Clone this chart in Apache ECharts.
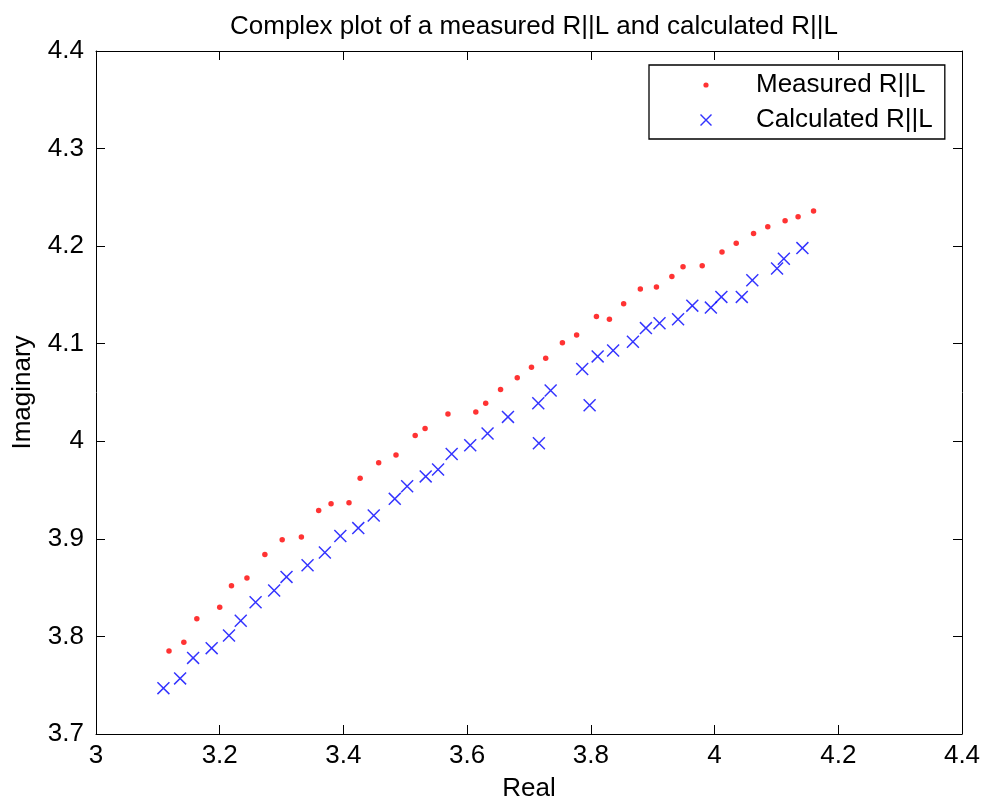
<!DOCTYPE html>
<html>
<head>
<meta charset="utf-8">
<script src="https://cdn.jsdelivr.net/npm/echarts@6/dist/echarts.min.js"></script>
<style>
  html, body { margin: 0; padding: 0; background: #fff; }
  #chart { width: 987px; height: 807px; }
</style>
</head>
<body>
<div id="chart"></div>
<script>
// measured R||L (real, imaginary)
const measuredReal = [3.118, 3.142, 3.163, 3.200, 3.219, 3.244, 3.273, 3.301, 3.332, 3.360,
  3.380, 3.409, 3.427, 3.457, 3.485, 3.516, 3.532, 3.569, 3.614, 3.630,
  3.654, 3.681, 3.704, 3.727, 3.754, 3.777, 3.809, 3.830, 3.853, 3.880,
  3.906, 3.931, 3.949, 3.980, 4.012, 4.035, 4.063, 4.086, 4.114, 4.135, 4.160];
const measuredImag = [3.785, 3.794, 3.818, 3.830, 3.852, 3.860, 3.884, 3.899, 3.902, 3.929,
  3.936, 3.937, 3.962, 3.978, 3.986, 4.006, 4.013, 4.028, 4.030, 4.039,
  4.053, 4.065, 4.076, 4.085, 4.101, 4.109, 4.128, 4.125, 4.141, 4.156,
  4.158, 4.169, 4.179, 4.180, 4.194, 4.203, 4.213, 4.220, 4.226, 4.230, 4.236];

// calculated R||L (real, imaginary)
const calcReal = [3.109, 3.136, 3.157, 3.187, 3.215, 3.234, 3.258, 3.288, 3.308, 3.342,
  3.370, 3.395, 3.424, 3.449, 3.483, 3.503, 3.533, 3.553, 3.575, 3.605,
  3.633, 3.666, 3.715, 3.716, 3.735, 3.786, 3.798, 3.811, 3.836, 3.868,
  3.889, 3.911, 3.941, 3.964, 3.994, 4.011, 4.044, 4.061, 4.101, 4.112, 4.142];
const calcImag = [3.747, 3.757, 3.778, 3.788, 3.801, 3.816, 3.835, 3.847, 3.861, 3.873,
  3.886, 3.903, 3.911, 3.924, 3.941, 3.954, 3.964, 3.971, 3.987, 3.996,
  4.008, 4.025, 4.039, 3.998, 4.052, 4.074, 4.037, 4.087, 4.093, 4.102,
  4.116, 4.121, 4.125, 4.139, 4.137, 4.148, 4.148, 4.165, 4.177, 4.187, 4.198];

const seriesNames = ['Measured R||L', 'Calculated R||L'];

const FONT = '"Liberation Sans", Arial, sans-serif';
const FS = 26;

// filled X made of two bars
const xMark = 'path://M0,8L8,0L100,92L92,100ZM92,0L100,8L8,100L0,92Z';
// legend icons padded inside a 100x100 box so they draw small
const legendDot = 'path://M0,0M100,100M37,50A13,13 0 1,0 63,50A13,13 0 1,0 37,50Z';
const legendX = 'path://M0,0M100,100M20,25L25,20L80,75L75,80ZM75,20L80,25L25,80L20,75Z';

const zip = (a, b) => a.map((v, i) => [v, b[i]]);

const chart = echarts.init(document.getElementById('chart'));

const frameAxis = {
  axisLine: { show: true, lineStyle: { color: '#000', width: 1 } },
  axisTick: { show: true, inside: true, length: 9, lineStyle: { color: '#000' } },
  splitLine: { show: false }
};

chart.setOption({
  animation: false,
  backgroundColor: '#fff',
  title: {
    text: 'Complex plot of a measured R||L and calculated R||L',
    left: 529,
    textAlign: 'center',
    top: 9,
    textStyle: { fontFamily: FONT, fontSize: FS, fontWeight: 'normal', color: '#000' }
  },
  legend: {
    orient: 'vertical',
    left: 649,
    top: 65,
    padding: [6, 12, 5, 47],
    itemWidth: 90,
    itemHeight: 20,
    itemGap: 7,
    borderColor: '#000',
    borderWidth: 1.3,
    backgroundColor: '#fff',
    textStyle: { fontFamily: FONT, fontSize: FS, lineHeight: 28, color: '#000' },
    data: [
      { name: seriesNames[0], icon: legendDot },
      { name: seriesNames[1], icon: legendX }
    ]
  },
  grid: { left: 96, right: 25, top: 51, bottom: 72 },
  xAxis: [
    Object.assign({
      type: 'value', min: 3, max: 4.4, interval: 0.2,
      name: 'Real', nameLocation: 'middle', nameGap: 42,
      nameTextStyle: { fontFamily: FONT, fontSize: FS, color: '#000' },
      axisLabel: { margin: 9, fontFamily: FONT, fontSize: FS, color: '#000' }
    }, frameAxis),
    Object.assign({
      type: 'value', position: 'top', min: 3, max: 4.4, interval: 0.2,
      axisLabel: { show: false }
    }, frameAxis)
  ],
  yAxis: [
    Object.assign({
      type: 'value', min: 3.7, max: 4.4, interval: 0.1,
      name: 'Imaginary', nameLocation: 'middle', nameGap: 60,
      nameTextStyle: { fontFamily: FONT, fontSize: FS, color: '#000' },
      axisLabel: { margin: 12, fontFamily: FONT, fontSize: FS, color: '#000' }
    }, frameAxis),
    Object.assign({
      type: 'value', position: 'right', min: 3.7, max: 4.4, interval: 0.1,
      axisLabel: { show: false }
    }, frameAxis)
  ],
  series: [
    {
      name: seriesNames[0],
      type: 'scatter',
      symbol: 'circle',
      symbolSize: 5.5,
      itemStyle: { color: '#ff0000' },
      data: zip(measuredReal, measuredImag)
    },
    {
      name: seriesNames[1],
      type: 'scatter',
      symbol: xMark,
      symbolSize: 13,
      itemStyle: { color: '#0000ff' },
      data: zip(calcReal, calcImag)
    }
  ]
});

window.addEventListener('resize', () => chart.resize());
</script>
</body>
</html>
